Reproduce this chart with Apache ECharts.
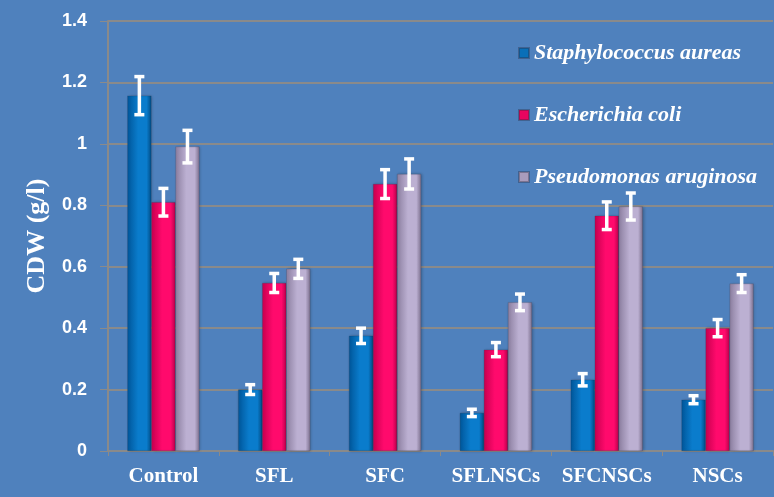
<!DOCTYPE html>
<html><head><meta charset="utf-8">
<script src="https://cdn.jsdelivr.net/npm/echarts@6/dist/echarts.min.js"></script>
<style>html,body{margin:0;padding:0;background:#4F81BD}#c{width:774px;height:497px}</style>
</head><body><div id="c"></div>
<script>
var categories = ['Control', 'SFL', 'SFC', 'SFLNSCs', 'SFCNSCs', 'NSCs'];
var seriesNames = ['Staphylococcus aureas', 'Escherichia coli', 'Pseudomonas aruginosa'];
var staph = [1.157, 0.200, 0.375, 0.124, 0.232, 0.167];
var ecoli = [0.810, 0.547, 0.869, 0.330, 0.766, 0.400];
var pseudo = [0.991, 0.593, 0.902, 0.484, 0.796, 0.545];
var staphErr = [0.062, 0.016, 0.025, 0.012, 0.020, 0.013];
var ecoliErr = [0.045, 0.031, 0.047, 0.023, 0.045, 0.028];
var pseudoErr = [0.053, 0.031, 0.049, 0.027, 0.044, 0.029];
var yTicks = [0, 0.2, 0.4, 0.6, 0.8, 1, 1.2, 1.4];

var values = [staph, ecoli, pseudo];
var errs = [staphErr, ecoliErr, pseudoErr];
var BARW = 0.217;

function grad(a, b, c) {
  return new echarts.graphic.LinearGradient(0, 0, 1, 0, [
    {offset: 0, color: a}, {offset: 0.45, color: b}, {offset: 0.8, color: b}, {offset: 1, color: c}
  ]);
}
var fills = [
  grad('#00569a', '#0a7ccc', '#004a82'),
  grad('#c8004f', '#ff0a6c', '#b8004a'),
  grad('#8c7fa0', '#bcb0d2', '#7a6e8c')
];
var legendColors = ['#0a6fb8', '#e8055f', '#a99cbc'];

var series = [];
values.forEach(function (v, i) {
  series.push({
    type: 'bar', name: seriesNames[i], data: v,
    barWidth: (BARW * 100) + '%', barGap: '0%',
    itemStyle: {color: fills[i], borderColor: 'rgba(40,40,60,0.35)', borderWidth: 0.5,
      shadowColor: 'rgba(0,0,0,0.25)', shadowBlur: 3, shadowOffsetX: 1}
  });
});
values.forEach(function (v, i) {
  series.push({
    type: 'custom', name: seriesNames[i] + ' err',
    data: v.map(function (val, k) { return [k, val - errs[i][k], val + errs[i][k]]; }),
    z: 10,
    renderItem: function (params, api) {
      var k = api.value(0);
      var band = api.size([1, 0])[0];
      var off = (i - 1) * band * BARW;
      var lo = api.coord([k, api.value(1)]);
      var hi = api.coord([k, api.value(2)]);
      var x = lo[0] + off;
      var cap = 5;
      var st = {stroke: '#ffffff', lineWidth: 3.5};
      return {type: 'group', children: [
        {type: 'line', shape: {x1: x, y1: lo[1], x2: x, y2: hi[1]}, style: st},
        {type: 'line', shape: {x1: x - cap, y1: lo[1], x2: x + cap, y2: lo[1]}, style: st},
        {type: 'line', shape: {x1: x - cap, y1: hi[1], x2: x + cap, y2: hi[1]}, style: st}
      ]};
    }
  });
});

var chart = echarts.init(document.getElementById('c'), null, {renderer: 'canvas'});
chart.setOption({
  backgroundColor: '#4F81BD',
  animation: false,
  grid: {left: 108, right: 1, top: 21, bottom: 46},
  legend: {
    data: seriesNames.map(function (n, i) { return {name: n, itemStyle: {color: legendColors[i]}}; }),
    orient: 'vertical', left: 513, top: 37, itemGap: 40,
    icon: 'rect', itemWidth: 10, itemHeight: 10,
    textStyle: {color: '#ffffff', fontFamily: 'Liberation Serif', fontWeight: 'bold', fontStyle: 'italic', fontSize: 22}
  },
  xAxis: {
    type: 'category', data: categories,
    axisLine: {lineStyle: {color: '#8a8a8a', width: 2}},
    axisTick: {show: true, length: 5, lineStyle: {color: '#8a8a8a', width: 1}},
    axisLabel: {color: '#ffffff', fontFamily: 'Liberation Serif', fontWeight: 'bold', fontSize: 21, margin: 15,
      interval: 0, hideOverlap: false}
  },
  yAxis: {
    type: 'value', min: 0, max: 1.4, interval: 0.2,
    name: 'CDW (g/l)', nameLocation: 'middle', nameGap: 58,
    nameTextStyle: {color: '#ffffff', fontFamily: 'Liberation Serif', fontWeight: 'bold', fontSize: 26},
    axisLine: {show: true, lineStyle: {color: '#8a8a8a', width: 2}},
    axisTick: {show: true, inside: false, length: 8, lineStyle: {color: '#8a8a8a', width: 1}},
    axisLabel: {color: '#ffffff', fontFamily: 'Liberation Sans', fontWeight: 'bold', fontSize: 18, margin: 21,
      formatter: function (v) { var i = yTicks.indexOf(Math.round(v * 10) / 10); return i >= 0 ? String(yTicks[i]) : ''; }},
    splitLine: {lineStyle: {color: '#8a8a8a', width: 2}}
  },
  series: series
});
</script></body></html>
